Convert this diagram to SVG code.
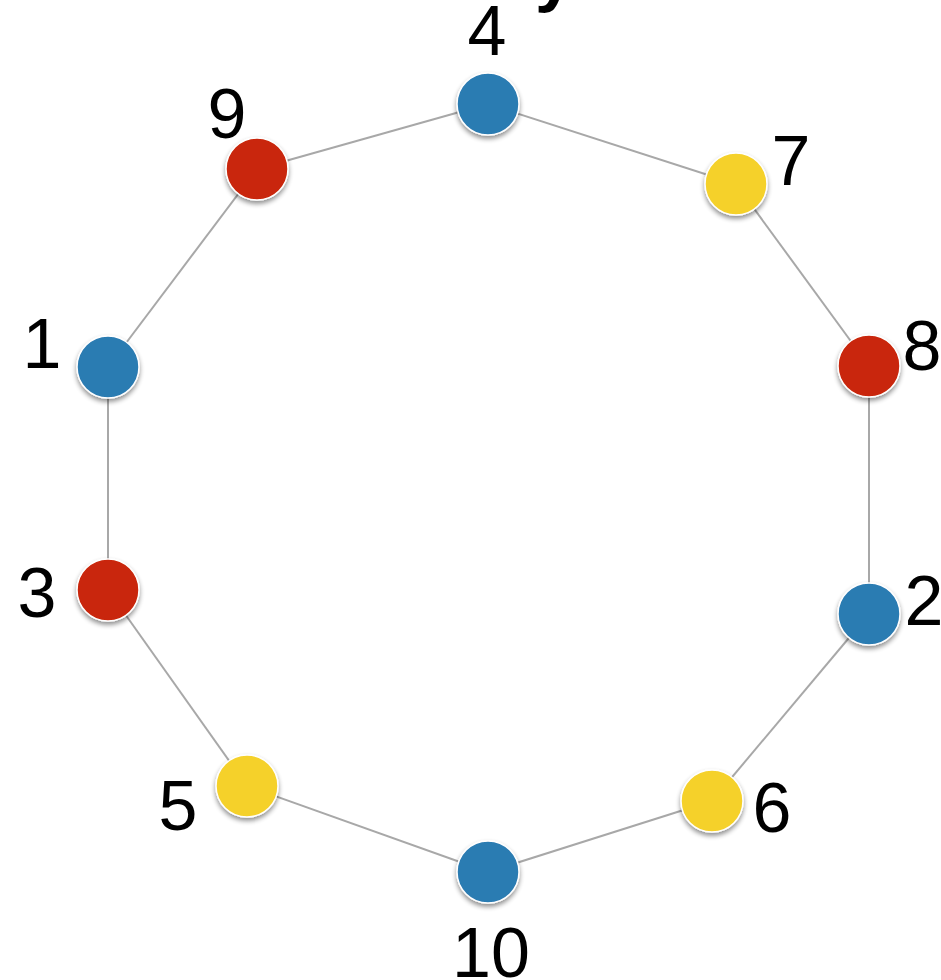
<svg xmlns="http://www.w3.org/2000/svg" width="941" height="980" viewBox="0 0 941 980">
<defs>
<filter id="sh" x="-30%" y="-30%" width="160%" height="170%">
<feGaussianBlur in="SourceAlpha" stdDeviation="2.5"/>
<feOffset dx="0" dy="3" result="b"/>
<feComponentTransfer><feFuncA type="linear" slope="0.45"/></feComponentTransfer>
<feMerge><feMergeNode/><feMergeNode in="SourceGraphic"/></feMerge>
</filter>
</defs>
<style>
.lbl{font-family:"Liberation Sans",Arial,sans-serif;font-size:70px;fill:#000;text-anchor:middle}
.e{stroke:#a8a8a8;stroke-width:2;fill:none}
.n{stroke:#ffffff;stroke-width:1.5;filter:url(#sh)}
.blue{fill:#2c7bb2}
.red{fill:#c92608}
.yel{fill:#f5d12c}
</style>
<rect width="941" height="980" fill="#fff"/>
<text x="535" y="-2" style="font-family:'Liberation Sans',Arial,sans-serif;font-size:70px;font-weight:bold">y</text>
<g id="connectors">
<line class="e" x1="488" y1="104" x2="736" y2="184"/>
<line class="e" x1="736" y1="184" x2="869" y2="366"/>
<line class="e" x1="869" y1="366" x2="869" y2="614"/>
<line class="e" x1="869" y1="614" x2="712" y2="801"/>
<line class="e" x1="712" y1="801" x2="488" y2="872"/>
<line class="e" x1="488" y1="872" x2="247" y2="786"/>
<line class="e" x1="247" y1="786" x2="108" y2="590"/>
<line class="e" x1="108" y1="590" x2="108" y2="367"/>
<line class="e" x1="108" y1="367" x2="257" y2="169"/>
<line class="e" x1="257" y1="169" x2="488" y2="104"/>
</g>
<g id="node-4"><circle class="n blue" cx="488" cy="104" r="31"/><text class="lbl" x="487" y="55">4</text></g>
<g id="node-9"><circle class="n red" cx="257" cy="169" r="31"/><text class="lbl" x="227" y="138">9</text></g>
<g id="node-7"><circle class="n yel" cx="736" cy="184" r="31"/><text class="lbl" x="791" y="185">7</text></g>
<g id="node-1"><circle class="n blue" cx="108" cy="367" r="31"/><text class="lbl" x="42" y="368">1</text></g>
<g id="node-8"><circle class="n red" cx="869" cy="366" r="31"/><text class="lbl" x="922" y="370">8</text></g>
<g id="node-3"><circle class="n red" cx="108" cy="590" r="31"/><text class="lbl" x="37" y="617">3</text></g>
<g id="node-2"><circle class="n blue" cx="869" cy="614" r="31"/><text class="lbl" x="924" y="625">2</text></g>
<g id="node-5"><circle class="n yel" cx="247" cy="786" r="31"/><text class="lbl" x="178" y="830">5</text></g>
<g id="node-6"><circle class="n yel" cx="712" cy="801" r="31"/><text class="lbl" x="772" y="832">6</text></g>
<g id="node-10"><circle class="n blue" cx="488" cy="872" r="31"/><text class="lbl" x="491" y="977">10</text></g>
</svg>
